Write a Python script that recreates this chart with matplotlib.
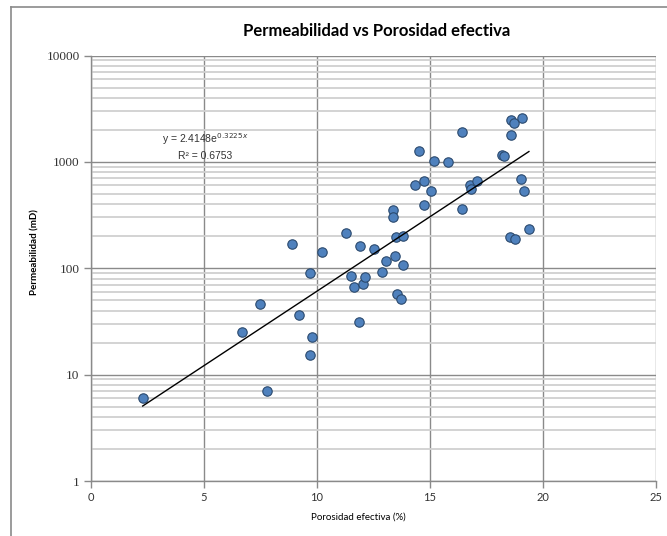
import numpy as np
import matplotlib
matplotlib.use("Agg")
import matplotlib.pyplot as plt
import matplotlib.ticker as mticker

# ── Datos ──────────────────────────────────────────────────────────────────
porosidad = [2.3, 6.7, 7.5, 7.8, 8.9, 9.2, 9.7, 9.7, 9.8, 10.25,
             11.27, 11.5, 11.63, 11.85, 11.92, 12.03, 12.15, 12.54, 12.9, 13.06,
             13.39, 13.39, 13.44, 13.5, 13.55, 13.71, 13.8, 13.8, 14.32, 14.5,
             14.72, 14.75, 15.03, 15.2, 15.81, 16.4, 16.4, 16.77, 16.84, 17.1,
             18.17, 18.29, 18.53, 18.59, 18.6, 18.72, 18.75, 19.05, 19.07, 19.18,
             19.38]
permeabilidad = [6.0, 25, 46, 7.0, 169, 36, 91, 15.2, 22.7, 142,
                 215, 85, 66, 31, 163, 71, 83, 152, 93, 116,
                 350, 302, 129, 197, 57, 51, 200, 107, 603, 1270,
                 658, 390, 532, 1010, 995, 1924, 360, 603, 552, 668,
                 1167, 1143, 197, 2500, 1790, 2324, 189, 683, 2612, 532,
                 233]

# Línea de tendencia exponencial (Excel): y = 2.4148 e^(0.3225x)
coef_a = 2.4148
coef_b = 0.3225
r2 = 0.6753

titulo = "Permeabilidad vs Porosidad efectiva"
xlabel = "Porosidad efectiva (%)"
ylabel = "Permeabilidad (mD)"

# ── Figura ─────────────────────────────────────────────────────────────────
W, H = 667, 536
fig = plt.figure(figsize=(W / 100, H / 100), dpi=100)
ax = fig.add_axes([90.7 / W, 1 - 481 / H, (656 - 90.7) / W, (481 - 55.5) / H])

ax.set_xlim(0, 25)
ax.set_yscale("log")
ax.set_ylim(1, 10000)

# gridlines estilo Excel
ax.xaxis.set_major_locator(mticker.MultipleLocator(5))
ax.yaxis.set_major_locator(mticker.LogLocator(base=10, numticks=10))
ax.yaxis.set_minor_locator(mticker.LogLocator(base=10, subs=np.arange(2, 10), numticks=10))
ax.yaxis.set_major_formatter(mticker.FuncFormatter(lambda v, _: f"{v:.0f}"))
ax.yaxis.set_minor_formatter(mticker.NullFormatter())
ax.grid(which="minor", axis="y", color="#d0d0d0", lw=1.3)
ax.grid(which="major", axis="y", color="#8a8a8a", lw=1.0)
ax.grid(which="major", axis="x", color="#8a8a8a", lw=1.0)
ax.set_axisbelow(True)

for s in ["top", "right"]:
    ax.spines[s].set_visible(False)
for s in ["left", "bottom"]:
    ax.spines[s].set_color("#8a8a8a")
    ax.spines[s].set_linewidth(1.0)

ax.tick_params(which="major", direction="out", length=5, color="#8a8a8a", width=1)
ax.tick_params(which="minor", length=0)
ax.tick_params(axis="y", labelsize=9.5, pad=3, labelcolor="#333333")
ax.tick_params(axis="x", labelsize=8, pad=3, labelcolor="#333333")
for lbl in ax.get_xticklabels():
    lbl.set_family("Lato")
for lbl in ax.get_yticklabels():
    lbl.set_family("Liberation Serif")

# ── Puntos ─────────────────────────────────────────────────────────────────
ax.scatter(porosidad, permeabilidad, s=46, color="#4F81BD",
           edgecolor="#2b4a6e", linewidth=0.8, zorder=3, clip_on=False)

# ── Tendencia ──────────────────────────────────────────────────────────────
xt = np.linspace(min(porosidad), max(porosidad), 200)
ax.plot(xt, coef_a * np.exp(coef_b * xt), color="black", lw=1.0, zorder=4)

ax.text(5.05, 1620, f"y = {coef_a}e$^{{{coef_b}x}}$", ha="center", va="center",
        fontsize=7.5, family="Liberation Sans", color="#333333")
ax.text(5.05, 1130, f"R² = {r2}", ha="center", va="center",
        fontsize=7.5, family="Liberation Sans", color="#333333")

# ── Textos ─────────────────────────────────────────────────────────────────
fig.text(377 / W, 1 - 31 / H, titulo, ha="center", va="center",
         fontsize=12, fontweight="bold", family="Lato")
fig.text(358 / W, 1 - 517 / H, xlabel, ha="center", va="center",
         fontsize=7, family="Lato")
fig.text(35 / W, 1 - 252 / H, ylabel, ha="center", va="center",
         fontsize=7, fontweight="bold", family="Lato", rotation=90)

# borde del área del gráfico
fig.add_artist(plt.Line2D([10.5 / W, 10.5 / W], [0, 1 - 7.3 / H],
                          transform=fig.transFigure, color="#8a8a8a", lw=1.2))
fig.add_artist(plt.Line2D([10.5 / W, 1], [1 - 7.3 / H, 1 - 7.3 / H],
                          transform=fig.transFigure, color="#8a8a8a", lw=1.2))

fig.savefig("out.png", dpi=100)
